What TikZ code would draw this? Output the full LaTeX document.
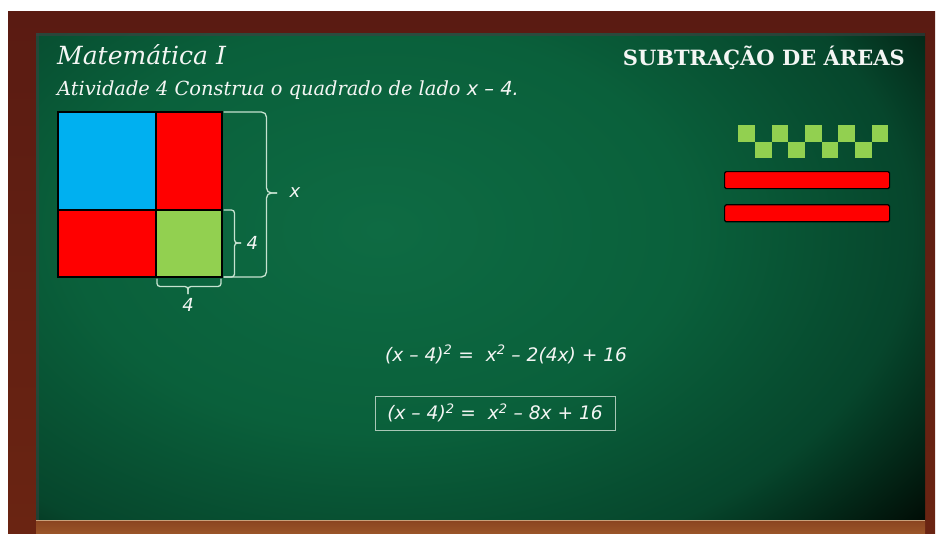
\documentclass[tikz,border=0pt]{standalone}
\usepackage{fontspec}
\setmainfont{DejaVu Serif}
\newfontfamily\eqfont{DejaVu Sans}
\usepackage{xcolor}
\usepackage{tikz}
\usetikzlibrary{positioning}
\definecolor{woodtop}{HTML}{5a1b12}
\definecolor{woodmid}{HTML}{6a2412}
\definecolor{woodlow}{HTML}{8a4420}
\definecolor{woodbottom}{HTML}{9a5428}
\definecolor{woodlight}{HTML}{c9a07a}
\definecolor{boardlight}{HTML}{0e6b43}
\definecolor{boardmid}{HTML}{0a603b}
\definecolor{boarddark}{HTML}{06462c}
\definecolor{boardblack}{HTML}{010d06}
\definecolor{chalkwhite}{HTML}{f4f6f4}
\definecolor{chalkline}{HTML}{c6e2d0}
\definecolor{boxline}{HTML}{a9c7b6}
\definecolor{tileblue}{HTML}{00b0f0}
\definecolor{tilered}{HTML}{ff0000}
\definecolor{tilegreen}{HTML}{92d050}
\pgfdeclareradialshading{boardglow}{\pgfpoint{0bp}{0bp}}{color(0bp)=(boardlight); color(11bp)=(boardmid); color(19bp)=(boarddark); color(25bp)=(boardblack); color(50bp)=(boardblack)}

\begin{document}
\begin{tikzpicture}[x=1pt, y=-1pt,
  tile/.style={draw=black, line width=1.6pt, inner sep=0pt, outer sep=0pt, anchor=north west},
  chalkbrace/.style={draw=chalkline, line width=1.3pt, rounded corners=#1},
  chalktext/.style={text=chalkwhite, font=\eqfont\itshape\fontsize{18}{22}\selectfont},
  checker/.style={fill=tilegreen, inner sep=0pt, minimum width=16.7pt, minimum height=16.5pt, anchor=north west},
  bar/.style={fill=tilered, draw=black, line width=1.2pt, rounded corners=1.5pt, inner sep=0pt,
    minimum width=165pt, minimum height=17pt, anchor=north west},
  eqtext/.style={text=chalkwhite, font=\eqfont\itshape\fontsize{18.6}{23}\selectfont}]

  \useasboundingbox (0,0) rectangle (937,533);

  % ================= FRAME AND BOARD =================
  \fill[white] (0,0) rectangle (937,533);
  \shade[top color=woodtop, bottom color=woodmid] (8,11) rectangle (935,533);
  \shade[top color=woodlow, bottom color=woodbottom] (36,520) rectangle (925,533);
  \begin{scope}
    \clip (36,33) rectangle (925,520);
    \shade[shading=boardglow] (-320,-230) rectangle (1080,690);
    % shadow under the rails
    \draw[black!75, line width=3pt, opacity=0.6] (36,34) -- (925,34);
    \draw[black!75, line width=3pt, opacity=0.5] (37,33) -- (37,520);
  \end{scope}
  \draw[woodlight, line width=1pt] (36,520.5) -- (925,520.5);

  % ================= TITLES =================
  \node[anchor=base west, inner sep=0pt, text=chalkwhite, font=\itshape\fontsize{25}{30}\selectfont]
    (title) at (57,64) {Matemática I};
  \node[anchor=base west, inner sep=0pt, text=chalkwhite, font=\itshape\fontsize{19.4}{24}\selectfont]
    (task) at (57,95) {Atividade 4 Construa o quadrado de lado {\eqfont x – 4.}};
  \node[anchor=base east, inner sep=0pt, text=chalkwhite, font=\bfseries\fontsize{21}{26}\selectfont]
    (topic) at (905,65) {SUBTRAÇÃO DE ÁREAS};

  % ================= SQUARE OF SIDE x =================
  \node[tile, fill=tileblue, minimum width=98pt, minimum height=98pt] (sqBlue) at (58,112) {};
  \node[tile, fill=tilered, minimum width=66pt, minimum height=98pt] (sqRedTop) at (156,112) {};
  \node[tile, fill=tilered, minimum width=98pt, minimum height=67pt] (sqRedLow) at (58,210) {};
  \node[tile, fill=tilegreen, minimum width=66pt, minimum height=67pt] (sqGreen) at (156,210) {};

  % Braces
  \coordinate (tipX) at (277,193);
  \coordinate (tipR) at (241,243);
  \coordinate (tipB) at (188,294);
  \draw[chalkbrace=5pt] ([xshift=1.5pt]sqRedTop.north east) -- ++(43,0) |- (tipX);
  \draw[chalkbrace=5pt] ([xshift=1.5pt]sqGreen.south east) -- ++(43,0) |- (tipX);
  \draw[chalkbrace=3pt] ([xshift=1.5pt]sqGreen.north east) -- ++(11,0) |- (tipR);
  \draw[chalkbrace=3pt] ([xshift=1.5pt]sqGreen.south east) -- ++(11,0) |- (tipR);
  \draw[chalkbrace=3pt] ([xshift=1pt, yshift=-1.5pt]sqGreen.south west) -- ++(0,8) -| (tipB);
  \draw[chalkbrace=3pt] ([xshift=-1pt, yshift=-1.5pt]sqGreen.south east) -- ++(0,8) -| (tipB);

  \node[chalktext, right=9pt of tipX] (lblX) {x};
  \node[chalktext, right=2pt of tipR] (lblFourR) {4};
  \node[chalktext, below=1pt of tipB] (lblFourB) {4};

  % ================= LEGEND =================
  \foreach \i in {0,...,8} {
    \pgfmathsetmacro{\row}{mod(\i,2)}
    \node[checker] (chk\i) at ({738+\i*16.67}, {125+\row*16.5}) {};
  }
  \node[bar] (barTop) at (724,171) {};
  \node[bar, below=15pt of barTop] (barLow) {};

  % ================= EQUATIONS =================
  \node[eqtext, anchor=base west, inner sep=0pt] (eqExpand) at (385,361)
    {(x – 4)\textsuperscript{2} =~ x\textsuperscript{2} – 2(4x) + 16};
  \node[eqtext, draw=boxline, line width=0.9pt, minimum width=240pt, minimum height=34pt]
    (eqResult) at (495,413) {(x – 4)\textsuperscript{2} =~ x\textsuperscript{2} – 8x + 16};

\end{tikzpicture}
\end{document}
